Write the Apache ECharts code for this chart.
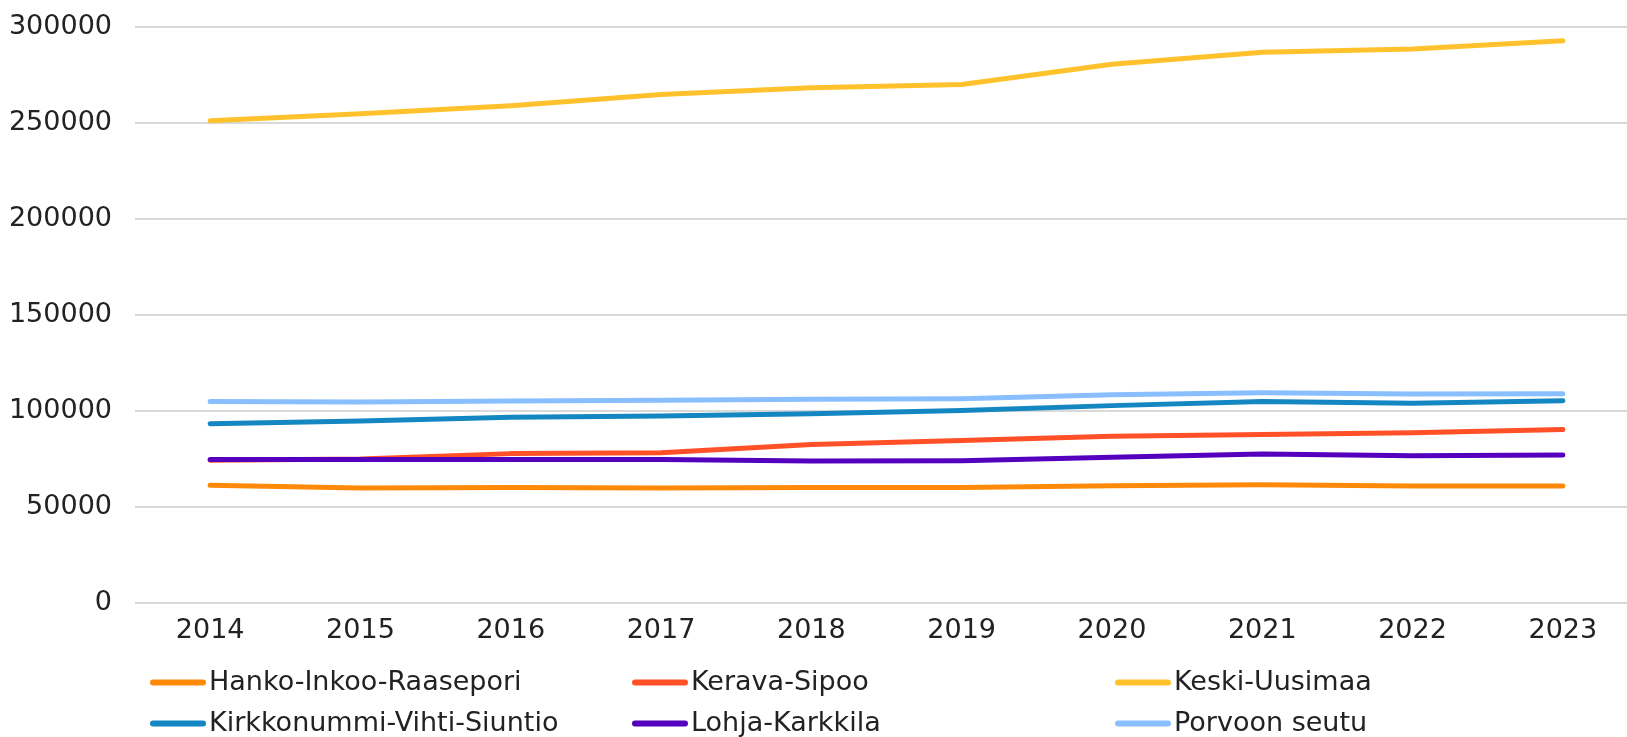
<!DOCTYPE html>
<html>
<head>
<meta charset="utf-8">
<title>Uusimaa</title>
<script src="https://cdn.jsdelivr.net/npm/echarts@6/dist/echarts.min.js"></script>
<style>
  html, body { margin: 0; padding: 0; background: #fff; }
  #main { width: 1627px; height: 737px; }
</style>
</head>
<body>
<div id="main"></div>
<script>
const years = ['2014', '2015', '2016', '2017', '2018', '2019', '2020', '2021', '2022', '2023']
const yTicks = [0, 50000, 100000, 150000, 200000, 250000, 300000]

const hanko = [61300, 59900, 60200, 59900, 60100, 60200, 61100, 61600, 60900, 61000]
const kerava = [74300, 75000, 77800, 78300, 82600, 84700, 86800, 87800, 88700, 90300]
const keski = [251200, 254800, 259000, 264800, 268300, 270000, 280600, 286900, 288600, 292900]
const kirkkonummi = [93400, 94800, 96700, 97400, 98600, 100200, 102800, 104900, 104000, 105400]
const lohja = [74800, 74800, 74800, 74700, 74000, 74100, 75900, 77600, 76700, 77100]
const porvoo = [105000, 104700, 105200, 105600, 106100, 106400, 108400, 109500, 108900, 109000]

const names = ['Hanko-Inkoo-Raasepori', 'Kerava-Sipoo', 'Keski-Uusimaa',
  'Kirkkonummi-Vihti-Siuntio', 'Lohja-Karkkila', 'Porvoon seutu']
const values = [hanko, kerava, keski, kirkkonummi, lohja, porvoo]
const colors = ['#ff8a0a', '#ff5028', '#ffc22c', '#1486c2', '#5500be', '#8abfff']

const font = '"DejaVu Sans", sans-serif'
const textColor = '#222'

const chart = echarts.init(document.getElementById('main'))

// pill shaped legend marker
const pill = 'path://M3,0 H53 A3,3 0 0 1 53,6 H3 A3,3 0 0 1 3,0 Z'

function makeLegend (left, items) {
  return {
    orient: 'vertical',
    left: left,
    top: 669,
    data: items,
    icon: pill,
    itemWidth: 56,
    itemHeight: 6,
    itemGap: 14,
    padding: 0,
    selectedMode: false,
    textStyle: { fontFamily: font, fontSize: 27, color: textColor, padding: [0, 0, 0, -2] }
  }
}

const option = {
  animation: false,
  color: colors,
  // plot runs past the right edge like in the original
  grid: { left: 135, width: 1503, top: 27, bottom: 134, outerBoundsMode: 'none' },
  legend: [
    makeLegend(150, [names[0], names[3]]),
    makeLegend(632, [names[1], names[4]]),
    makeLegend(1115, [names[2], names[5]])
  ],
  xAxis: {
    type: 'category',
    data: years,
    boundaryGap: true,
    axisLine: { show: false },
    axisTick: { show: false },
    axisLabel: { fontFamily: font, fontSize: 27, color: textColor, margin: 14 }
  },
  yAxis: {
    type: 'value',
    min: yTicks[0],
    max: yTicks[yTicks.length - 1],
    interval: yTicks[1] - yTicks[0],
    axisLine: { show: false },
    axisTick: { show: false },
    splitLine: { lineStyle: { color: '#d9d9d9', width: 2 } },
    axisLabel: {
      fontFamily: font,
      fontSize: 27,
      color: textColor,
      margin: 23,
      formatter: v => String(v)
    }
  },
  series: names.map((name, i) => {
    return {
      name: name,
      type: 'line',
      data: values[i],
      symbol: 'none',
      lineStyle: { width: 5, cap: 'round', join: 'round', color: colors[i] },
      itemStyle: { color: colors[i] }
    }
  })
}

chart.setOption(option)
</script>
</body>
</html>
